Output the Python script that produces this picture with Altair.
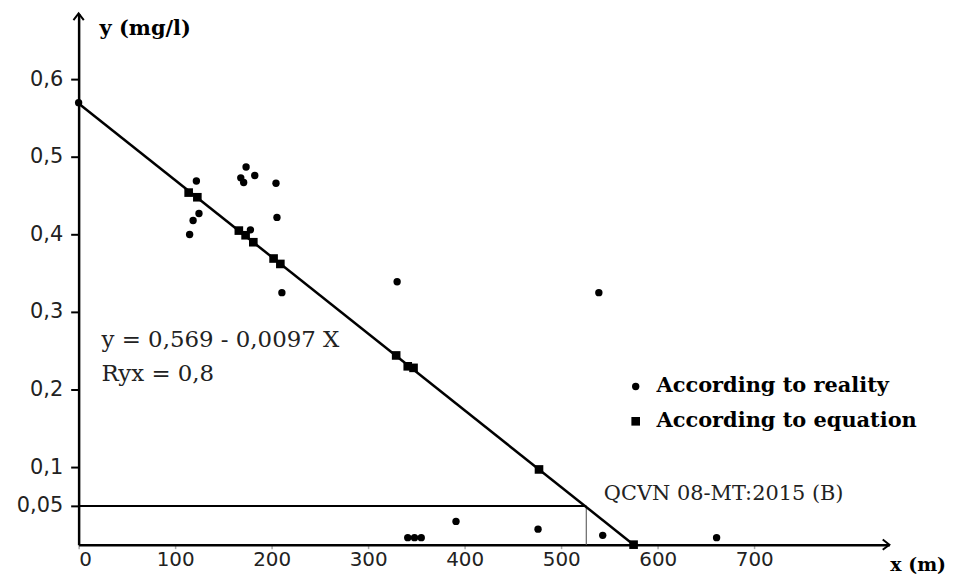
import altair as alt
import pandas as pd

# ---- data ----
real_x = [0, 115, 118.6, 122, 124.7, 168, 171, 173.5, 178, 182.5, 204.5, 205.5, 210.6,
          330, 341, 348, 355, 391, 476, 539, 543, 661]
real_y = [0.570, 0.400, 0.418, 0.469, 0.427, 0.473, 0.467, 0.487, 0.406, 0.476, 0.466, 0.422, 0.325,
          0.339, 0.009, 0.009, 0.009, 0.030, 0.020, 0.325, 0.012, 0.009]

eq_x = [114, 123, 166, 173, 181, 202, 209, 329, 341, 347, 477, 575]
eq_y = [0.454, 0.448, 0.405, 0.399, 0.390, 0.369, 0.362, 0.244, 0.230, 0.228, 0.097, 0.0]

line_x = [0, 575]
line_y = [0.569, 0.0]

limit_y = 0.05
limit_x = 526

x_ticks = [0, 100, 200, 300, 400, 500, 600, 700]
y_ticks = [0.05, 0.1, 0.2, 0.3, 0.4, 0.5, 0.6]

series_names = ["According to reality", "According to equation"]
series_shapes = ["circle", "square"]
series_sizes = [55, 75]
eq_text = ["y = 0,569 - 0,0097 X", "Ryx = 0,8"]
qcvn_text = "QCVN 08-MT:2015 (B)"

X_MAX = 840
Y_MAX = 0.685

pts = pd.DataFrame({
    "x": real_x + eq_x,
    "y": real_y + eq_y,
    "series": [series_names[0]] * len(real_x) + [series_names[1]] * len(eq_x),
})
line_df = pd.DataFrame({"x": line_x, "y": line_y})

xs = alt.Scale(domain=[0, X_MAX], nice=False, zero=True)
ys = alt.Scale(domain=[0, Y_MAX], nice=False, zero=True)

xax = alt.Axis(values=x_ticks, title=None, grid=False, labelFont="DejaVu Sans", labelFontSize=20,
               labelColor="#222", tickSize=4, tickColor="#aaa", tickWidth=1.5,
               domainColor="black", domainWidth=2.5, labelPadding=1)
yax = alt.Axis(values=y_ticks, title=None, grid=False, labelFont="DejaVu Sans", labelFontSize=21,
               labelColor="#222", tickSize=8, tickColor="black", tickWidth=2,
               domainColor="black", domainWidth=2.5, labelPadding=8,
               labelExpr="replace(toString(datum.value), '.', ',')")


def X(f="x"):
    return alt.X(f + ":Q", scale=xs, axis=xax)


def Y(f="y"):
    return alt.Y(f + ":Q", scale=ys, axis=yax)


reg = alt.Chart(line_df).mark_line(color="black", strokeWidth=2.5).encode(x=X(), y=Y())

hline = alt.Chart(pd.DataFrame({"x": [0], "x2": [limit_x], "y": [limit_y]})).mark_rule(
    color="black", strokeWidth=2).encode(x=X(), x2="x2:Q", y=Y())
vline = alt.Chart(pd.DataFrame({"x": [limit_x], "y": [0], "y2": [limit_y]})).mark_rule(
    color="#666", strokeWidth=1.2).encode(x=X(), y=Y(), y2="y2:Q")

shape_scale = alt.Scale(domain=series_names, range=series_shapes)
size_scale = alt.Scale(domain=series_names, range=series_sizes)

points = alt.Chart(pts).mark_point(filled=True, color="black", opacity=1).encode(
    x=X(),
    y=Y(),
    shape=alt.Shape("series:N", scale=shape_scale, legend=None),
    size=alt.Size("series:N", scale=size_scale, legend=None),
)

arrow_up = alt.Chart(pd.DataFrame({"x": [0], "y": [Y_MAX]})).mark_point(
    shape="M-0.7,0.9L0,0L0.7,0.9", filled=False, color="black", strokeWidth=2, size=220, opacity=1
).encode(x=X(), y=Y())
arrow_right = alt.Chart(pd.DataFrame({"x": [X_MAX], "y": [0]})).mark_point(
    shape="M-0.9,-0.7L0,0L-0.9,0.7", filled=False, color="black", strokeWidth=2, size=220, opacity=1
).encode(x=X(), y=Y())

# manual legend (symbols + labels), one row per series
legend_rows = []
for i, (name, shp, sz) in enumerate(zip(series_names, series_shapes, series_sizes)):
    py = 375 + 35 * i
    d = pd.DataFrame({"series": [name]})
    legend_rows.append(alt.Chart(d).mark_point(filled=True, color="black", opacity=1, shape=shp, size=sz)
                       .encode(x=alt.value(560), y=alt.value(py)))
    legend_rows.append(alt.Chart(d).mark_text(
        font="DejaVu Serif", fontWeight="bold", fontSize=21, color="black", align="left", baseline="middle"
    ).encode(text="series:N", x=alt.value(581), y=alt.value(py)))


def label(t, px, py, font, size, weight="normal", color="#222"):
    return alt.Chart(pd.DataFrame({"t": [t]})).mark_text(
        font=font, fontSize=size, fontWeight=weight, color=color, align="left", baseline="middle"
    ).encode(text="t:N", x=alt.value(px), y=alt.value(py))


eq1 = label(eq_text[0], 23, 328, "DejaVu Serif", 23)
eq2 = label(eq_text[1], 23, 362, "DejaVu Serif", 23)
qcvn = label(qcvn_text, 528, 483, "DejaVu Serif", 21)
ytitle = label("y (mg/l)", 21, 16, "DejaVu Serif", 21, "bold", "black")
xtitle = label("x (m)", 816, 554, "DejaVu Serif", 19, "bold", "black")

chart = alt.layer(
    hline, vline, reg, points, arrow_up, arrow_right, *legend_rows, eq1, eq2, qcvn, ytitle, xtitle
).properties(
    width=815, height=534,
    background="white",
    autosize=alt.AutoSizeParams(type="none"),
    padding={"left": 71, "top": 4, "right": 68, "bottom": 28},
).configure_view(strokeWidth=0, stroke=None)

chart.save("out.html", embed_options={"renderer": "svg", "actions": False})
